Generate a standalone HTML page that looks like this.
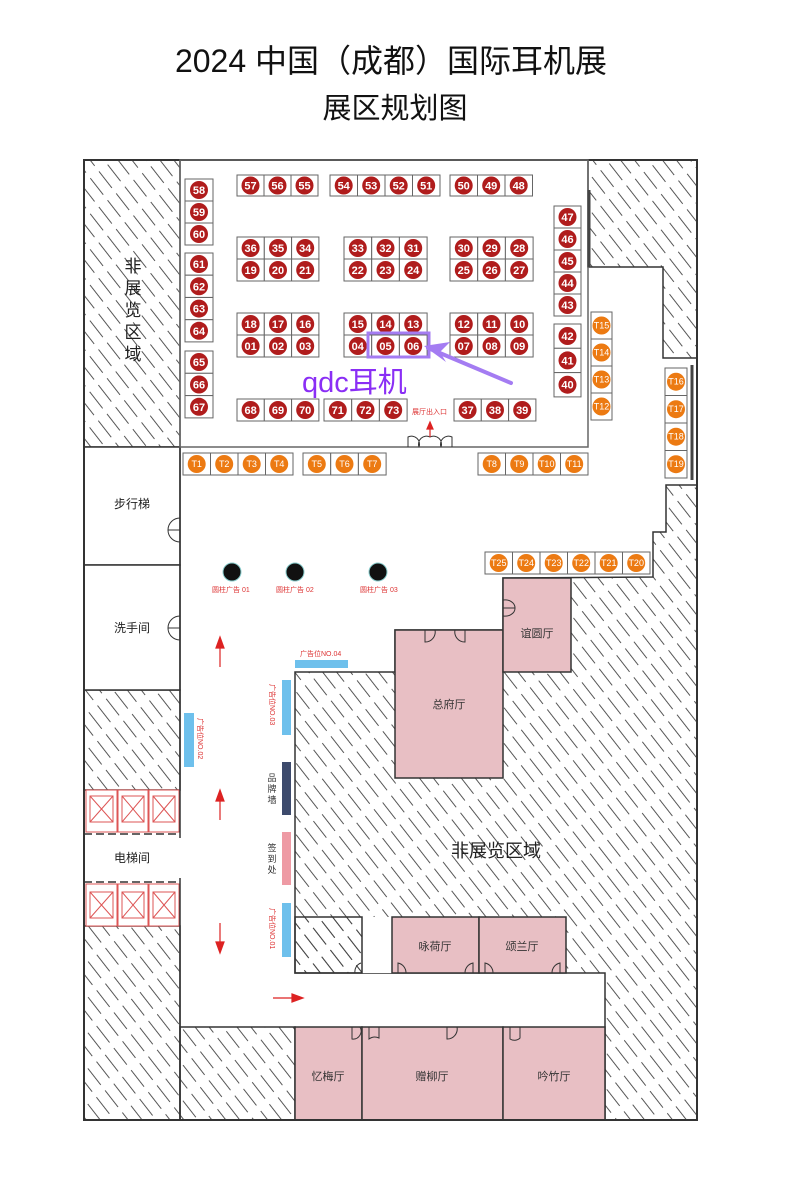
<!DOCTYPE html>
<html><head><meta charset="utf-8"><style>
body{margin:0;background:#fff}
svg{display:block}
.t{font-family:"Liberation Sans","Noto Sans CJK SC",sans-serif}
.c rect{fill:#fff;stroke:#666;stroke-width:1}
.c circle{fill:#b01c1c}
.c text{fill:#fff;font-size:11px;text-anchor:middle;font-family:"Liberation Sans",sans-serif;font-weight:bold}
.o rect{fill:#fff;stroke:#666;stroke-width:1}
.o circle{fill:#ec7a12}
.o text{fill:#fff;font-size:9px;text-anchor:middle;font-family:"Liberation Sans",sans-serif}
.pk{fill:#e8bfc4;stroke:#333;stroke-width:1.5}
.rl{font-family:"Liberation Sans","Noto Sans CJK SC",sans-serif;fill:#d33;font-size:7px}
</style></head><body>
<svg width="800" height="1178" viewBox="0 0 800 1178" xmlns="http://www.w3.org/2000/svg">
<defs>
<pattern id="h" patternUnits="userSpaceOnUse" width="11" height="28" patternTransform="rotate(-38)">
<rect x="5" y="0" width="0.9" height="21" fill="#444"/>
</pattern>
</defs>
<text class="t" x="391" y="72" font-size="32" text-anchor="middle" fill="#111">2024 中国（成都）国际耳机展</text>
<text class="t" x="395" y="118" font-size="29" text-anchor="middle" fill="#111">展区规划图</text>

<g fill="url(#h)" stroke="#333" stroke-width="1.5">
<rect x="84" y="160" width="96" height="287"/>
<rect x="84" y="690" width="96" height="100"/>
<rect x="84" y="926" width="96" height="194"/>
<rect x="180" y="1027" width="115" height="93"/>
<path d="M588,160 L697,160 L697,358 L663,358 L663,267 L588,267 Z"/>
<path d="M666,485 L697,485 L697,1120 L605,1120 L605,973 L295,973 L295,672 L395,672 L395,630 L503,630 L503,578 L653,577 L653,532 L666,532 Z"/>
</g>
<rect x="362" y="917" width="30" height="56" fill="#fff"/>
<rect x="295" y="917" width="67" height="56" fill="url(#h)" stroke="#333" stroke-width="1.5"/>
<rect class="pk" x="395" y="630" width="108" height="148"/>
<rect class="pk" x="503" y="578" width="68" height="94"/>
<rect class="pk" x="392" y="917" width="87" height="56"/>
<rect class="pk" x="479" y="917" width="87" height="56"/>
<rect class="pk" x="295" y="1027" width="67" height="93"/>
<rect class="pk" x="362" y="1027" width="141" height="93"/>
<rect class="pk" x="503" y="1027" width="102" height="93"/>
<g class="t" font-size="11" fill="#333" text-anchor="middle">
<text x="449" y="708">总府厅</text>
<text x="537" y="637">谊圆厅</text>
<text x="435" y="950">咏荷厅</text>
<text x="522" y="950">颂兰厅</text>
<text x="328" y="1080">忆梅厅</text>
<text x="432" y="1080">赠柳厅</text>
<text x="554" y="1080">吟竹厅</text>
</g>
<g fill="#fff" stroke="#333" stroke-width="1.5">
<rect x="84" y="447" width="96" height="118"/>
<rect x="84" y="565" width="96" height="125"/>
</g>
<g class="t" font-size="12" fill="#222" text-anchor="middle">
<text x="132" y="508">步行梯</text>
<text x="132" y="632">洗手间</text>
<text x="132" y="862">电梯间</text>
</g>
<g class="t" font-size="17" fill="#222" text-anchor="middle">
<text x="133" y="272">非</text><text x="133" y="294">展</text><text x="133" y="316">览</text><text x="133" y="338">区</text><text x="133" y="360">域</text>
<text x="496" y="857" font-size="18">非展览区域</text>
</g>
<g fill="#fff" stroke="#d55" stroke-width="1">
<rect x="86" y="790" width="31" height="42"/><rect x="118" y="790" width="30" height="42"/><rect x="149" y="790" width="30" height="42"/>
<rect x="90" y="796" width="23" height="26"/><rect x="122" y="796" width="22" height="26"/><rect x="153" y="796" width="22" height="26"/>
<path d="M90,796 L113,822 M113,796 L90,822 M122,796 L144,822 M144,796 L122,822 M153,796 L175,822 M175,796 L153,822"/>
<rect x="86" y="884" width="31" height="42"/><rect x="118" y="884" width="30" height="42"/><rect x="149" y="884" width="30" height="42"/>
<rect x="90" y="892" width="23" height="26"/><rect x="122" y="892" width="22" height="26"/><rect x="153" y="892" width="22" height="26"/>
<path d="M90,892 L113,918 M113,892 L90,918 M122,892 L144,918 M144,892 L122,918 M153,892 L175,918 M175,892 L153,918"/>
</g>
<path d="M84,834 H180 M84,882 H180" stroke="#333" stroke-width="1.5" stroke-dasharray="8 4"/>
<rect x="84" y="160" width="613" height="960" fill="none" stroke="#333" stroke-width="2"/>
<path d="M180,447 V838 M180,878 V1120" stroke="#333" stroke-width="1.5"/>
<rect x="180" y="160" width="408" height="287" fill="none" stroke="#666" stroke-width="1.5"/>
<path d="M589,190 V267 M692,365 V480" stroke="#444" stroke-width="3"/>
<g fill="none" stroke="#333" stroke-width="1">
<path d="M180,518 a12,12 0 0 0 -12,12 h12 M180,542 a12,12 0 0 1 -12,-12"/>
<path d="M180,616 a12,12 0 0 0 -12,12 h12 M180,640 a12,12 0 0 1 -12,-12"/>
<path d="M408,447 v-10 a8,8 0 0 1 11,10 M452,447 v-10 a8,8 0 0 0 -11,10 M419,447 a8,8 0 0 1 11,-10 M441,447 a8,8 0 0 0 -11,-10"/>
<path d="M425,630 v12 a10,10 0 0 0 10,-12 M465,630 v12 a10,10 0 0 1 -10,-12"/>
<path d="M503,600 a10,8 0 0 1 12,8 h-12 M503,616 a10,8 0 0 0 12,-8"/>
<path d="M398,973 v-10 a10,10 0 0 1 8,10 M473,973 v-10 a10,10 0 0 0 -8,10 M485,973 v-10 a10,10 0 0 1 8,10 M560,973 v-10 a10,10 0 0 0 -8,10 M355,973 a9,9 0 0 1 6,-10"/>
<path d="M352,1027 v12 a8,8 0 0 0 8,-12 M369,1027 v12 a10,10 0 0 1 10,-1 v-11 M447,1027 v12 a10,10 0 0 0 10,-12 M510,1027 v12 a8,8 0 0 0 10,-1 v-11"/>
</g>
<g stroke="#8cc" stroke-width="1"><circle cx="232" cy="572" r="9" fill="#111"/><circle cx="295" cy="572" r="9" fill="#111"/><circle cx="378" cy="572" r="9" fill="#111"/></g>
<text class="rl" x="212" y="592">圆柱广告 01</text><text class="rl" x="276" y="592">圆柱广告 02</text><text class="rl" x="360" y="592">圆柱广告 03</text>
<rect x="295" y="660" width="53" height="8" fill="#6ec0ec"/>
<text class="rl" x="300" y="656">广告位NO.04</text>
<rect x="282" y="680" width="9" height="55" fill="#6ec0ec"/>
<rect x="184" y="713" width="10" height="54" fill="#6ec0ec"/>
<rect x="282" y="762" width="9" height="53" fill="#3d4a6c"/>
<rect x="282" y="832" width="9" height="53" fill="#ee9aa4"/>
<rect x="282" y="903" width="9" height="54" fill="#6ec0ec"/>
<text class="rl" transform="translate(270,684) rotate(90)">广告位NO.03</text>
<text class="rl" transform="translate(198,718) rotate(90)">广告位NO.02</text>
<text class="rl" transform="translate(270,908) rotate(90)">广告位NO.01</text>
<g class="t" font-size="9" fill="#333" text-anchor="middle">
<text x="272" y="781">品</text><text x="272" y="792">牌</text><text x="272" y="803">墙</text>
<text x="272" y="851">签</text><text x="272" y="862">到</text><text x="272" y="873">处</text>
</g>
<g stroke="#d22" stroke-width="1.2" fill="#d22">
<path d="M220,667 V645" /><path d="M216,648 L220,637 L224,648 Z"/>
<path d="M220,820 V798" /><path d="M216,801 L220,790 L224,801 Z"/>
<path d="M220,923 V945" /><path d="M216,942 L220,953 L224,942 Z"/>
<path d="M273,998 H295" /><path d="M292,994 L303,998 L292,1002 Z"/>
<path d="M430,437 V428"/><path d="M427,429 L430,422 L433,429 Z"/>
</g>
<text class="rl" x="412" y="414">展厅出入口</text>

<g class="c">
<rect x="237" y="175" width="27" height="21"/><circle cx="250.5" cy="185.5" r="9"/><text x="250.5" y="189.5">57</text>
<rect x="264" y="175" width="27" height="21"/><circle cx="277.5" cy="185.5" r="9"/><text x="277.5" y="189.5">56</text>
<rect x="291" y="175" width="27" height="21"/><circle cx="304.5" cy="185.5" r="9"/><text x="304.5" y="189.5">55</text>
<rect x="330" y="175" width="27.5" height="21"/><circle cx="343.7" cy="185.5" r="9"/><text x="343.7" y="189.5">54</text>
<rect x="357.5" y="175" width="27.5" height="21"/><circle cx="371.2" cy="185.5" r="9"/><text x="371.2" y="189.5">53</text>
<rect x="385" y="175" width="27.5" height="21"/><circle cx="398.7" cy="185.5" r="9"/><text x="398.7" y="189.5">52</text>
<rect x="412.5" y="175" width="27.5" height="21"/><circle cx="426.2" cy="185.5" r="9"/><text x="426.2" y="189.5">51</text>
<rect x="450" y="175" width="27.5" height="21"/><circle cx="463.7" cy="185.5" r="9"/><text x="463.7" y="189.5">50</text>
<rect x="477.5" y="175" width="27.5" height="21"/><circle cx="491.2" cy="185.5" r="9"/><text x="491.2" y="189.5">49</text>
<rect x="505" y="175" width="27.5" height="21"/><circle cx="518.7" cy="185.5" r="9"/><text x="518.7" y="189.5">48</text>

<rect x="237" y="237" width="27.3" height="22"/><circle cx="250.6" cy="248" r="9"/><text x="250.6" y="252">36</text>
<rect x="264.3" y="237" width="27.3" height="22"/><circle cx="278" cy="248" r="9"/><text x="278" y="252">35</text>
<rect x="291.6" y="237" width="27.3" height="22"/><circle cx="305.2" cy="248" r="9"/><text x="305.2" y="252">34</text>
<rect x="344" y="237" width="27.7" height="22"/><circle cx="357.8" cy="248" r="9"/><text x="357.8" y="252">33</text>
<rect x="371.7" y="237" width="27.7" height="22"/><circle cx="385.5" cy="248" r="9"/><text x="385.5" y="252">32</text>
<rect x="399.4" y="237" width="27.7" height="22"/><circle cx="413.2" cy="248" r="9"/><text x="413.2" y="252">31</text>
<rect x="450" y="237" width="27.7" height="22"/><circle cx="463.8" cy="248" r="9"/><text x="463.8" y="252">30</text>
<rect x="477.7" y="237" width="27.7" height="22"/><circle cx="491.5" cy="248" r="9"/><text x="491.5" y="252">29</text>
<rect x="505.4" y="237" width="27.7" height="22"/><circle cx="519.2" cy="248" r="9"/><text x="519.2" y="252">28</text>
<rect x="237" y="259" width="27.3" height="22"/><circle cx="250.6" cy="270" r="9"/><text x="250.6" y="274">19</text>
<rect x="264.3" y="259" width="27.3" height="22"/><circle cx="278" cy="270" r="9"/><text x="278" y="274">20</text>
<rect x="291.6" y="259" width="27.3" height="22"/><circle cx="305.2" cy="270" r="9"/><text x="305.2" y="274">21</text>
<rect x="344" y="259" width="27.7" height="22"/><circle cx="357.8" cy="270" r="9"/><text x="357.8" y="274">22</text>
<rect x="371.7" y="259" width="27.7" height="22"/><circle cx="385.5" cy="270" r="9"/><text x="385.5" y="274">23</text>
<rect x="399.4" y="259" width="27.7" height="22"/><circle cx="413.2" cy="270" r="9"/><text x="413.2" y="274">24</text>
<rect x="450" y="259" width="27.7" height="22"/><circle cx="463.8" cy="270" r="9"/><text x="463.8" y="274">25</text>
<rect x="477.7" y="259" width="27.7" height="22"/><circle cx="491.5" cy="270" r="9"/><text x="491.5" y="274">26</text>
<rect x="505.4" y="259" width="27.7" height="22"/><circle cx="519.2" cy="270" r="9"/><text x="519.2" y="274">27</text>

<rect x="237" y="313" width="27.3" height="22"/><circle cx="250.6" cy="324" r="9"/><text x="250.6" y="328">18</text>
<rect x="264.3" y="313" width="27.3" height="22"/><circle cx="278" cy="324" r="9"/><text x="278" y="328">17</text>
<rect x="291.6" y="313" width="27.3" height="22"/><circle cx="305.2" cy="324" r="9"/><text x="305.2" y="328">16</text>
<rect x="344" y="313" width="27.7" height="22"/><circle cx="357.8" cy="324" r="9"/><text x="357.8" y="328">15</text>
<rect x="371.7" y="313" width="27.7" height="22"/><circle cx="385.5" cy="324" r="9"/><text x="385.5" y="328">14</text>
<rect x="399.4" y="313" width="27.7" height="22"/><circle cx="413.2" cy="324" r="9"/><text x="413.2" y="328">13</text>
<rect x="450" y="313" width="27.7" height="22"/><circle cx="463.8" cy="324" r="9"/><text x="463.8" y="328">12</text>
<rect x="477.7" y="313" width="27.7" height="22"/><circle cx="491.5" cy="324" r="9"/><text x="491.5" y="328">11</text>
<rect x="505.4" y="313" width="27.7" height="22"/><circle cx="519.2" cy="324" r="9"/><text x="519.2" y="328">10</text>
<rect x="237" y="335" width="27.3" height="22"/><circle cx="250.6" cy="346" r="9"/><text x="250.6" y="350">01</text>
<rect x="264.3" y="335" width="27.3" height="22"/><circle cx="278" cy="346" r="9"/><text x="278" y="350">02</text>
<rect x="291.6" y="335" width="27.3" height="22"/><circle cx="305.2" cy="346" r="9"/><text x="305.2" y="350">03</text>
<rect x="344" y="335" width="27.7" height="22"/><circle cx="357.8" cy="346" r="9"/><text x="357.8" y="350">04</text>
<rect x="371.7" y="335" width="27.7" height="22"/><circle cx="385.5" cy="346" r="9"/><text x="385.5" y="350">05</text>
<rect x="399.4" y="335" width="27.7" height="22"/><circle cx="413.2" cy="346" r="9"/><text x="413.2" y="350">06</text>
<rect x="450" y="335" width="27.7" height="22"/><circle cx="463.8" cy="346" r="9"/><text x="463.8" y="350">07</text>
<rect x="477.7" y="335" width="27.7" height="22"/><circle cx="491.5" cy="346" r="9"/><text x="491.5" y="350">08</text>
<rect x="505.4" y="335" width="27.7" height="22"/><circle cx="519.2" cy="346" r="9"/><text x="519.2" y="350">09</text>

<rect x="237" y="399" width="27.3" height="22"/><circle cx="250.6" cy="410" r="9"/><text x="250.6" y="414">68</text>
<rect x="264.3" y="399" width="27.3" height="22"/><circle cx="278" cy="410" r="9"/><text x="278" y="414">69</text>
<rect x="291.6" y="399" width="27.3" height="22"/><circle cx="305.2" cy="410" r="9"/><text x="305.2" y="414">70</text>
<rect x="324" y="399" width="27.7" height="22"/><circle cx="337.8" cy="410" r="9"/><text x="337.8" y="414">71</text>
<rect x="351.7" y="399" width="27.7" height="22"/><circle cx="365.5" cy="410" r="9"/><text x="365.5" y="414">72</text>
<rect x="379.4" y="399" width="27.7" height="22"/><circle cx="393.2" cy="410" r="9"/><text x="393.2" y="414">73</text>
<rect x="454" y="399" width="27.3" height="22"/><circle cx="467.6" cy="410" r="9"/><text x="467.6" y="414">37</text>
<rect x="481.3" y="399" width="27.3" height="22"/><circle cx="495" cy="410" r="9"/><text x="495" y="414">38</text>
<rect x="508.6" y="399" width="27.3" height="22"/><circle cx="522.2" cy="410" r="9"/><text x="522.2" y="414">39</text>

<rect x="185" y="179" width="28" height="22"/><circle cx="199" cy="190" r="9"/><text x="199" y="194">58</text>
<rect x="185" y="201" width="28" height="22"/><circle cx="199" cy="212" r="9"/><text x="199" y="216">59</text>
<rect x="185" y="223" width="28" height="22"/><circle cx="199" cy="234" r="9"/><text x="199" y="238">60</text>
<rect x="185" y="253" width="28" height="22.2"/><circle cx="199" cy="264" r="9"/><text x="199" y="268">61</text>
<rect x="185" y="275.2" width="28" height="22.2"/><circle cx="199" cy="286.3" r="9"/><text x="199" y="290.3">62</text>
<rect x="185" y="297.5" width="28" height="22.2"/><circle cx="199" cy="308.6" r="9"/><text x="199" y="312.6">63</text>
<rect x="185" y="319.7" width="28" height="22.2"/><circle cx="199" cy="330.8" r="9"/><text x="199" y="334.8">64</text>
<rect x="185" y="351" width="28" height="22.3"/><circle cx="199" cy="362" r="9"/><text x="199" y="366">65</text>
<rect x="185" y="373.3" width="28" height="22.3"/><circle cx="199" cy="384.5" r="9"/><text x="199" y="388.5">66</text>
<rect x="185" y="395.6" width="28" height="22.3"/><circle cx="199" cy="406.8" r="9"/><text x="199" y="410.8">67</text>

<rect x="554" y="206" width="27" height="22"/><circle cx="567.5" cy="217" r="9"/><text x="567.5" y="221">47</text>
<rect x="554" y="228" width="27" height="22"/><circle cx="567.5" cy="239" r="9"/><text x="567.5" y="243">46</text>
<rect x="554" y="250" width="27" height="22"/><circle cx="567.5" cy="261" r="9"/><text x="567.5" y="265">45</text>
<rect x="554" y="272" width="27" height="22"/><circle cx="567.5" cy="283" r="9"/><text x="567.5" y="287">44</text>
<rect x="554" y="294" width="27" height="22"/><circle cx="567.5" cy="305" r="9"/><text x="567.5" y="309">43</text>
<rect x="554" y="324" width="27" height="24.3"/><circle cx="567.5" cy="336" r="9"/><text x="567.5" y="340">42</text>
<rect x="554" y="348.3" width="27" height="24.3"/><circle cx="567.5" cy="360.4" r="9"/><text x="567.5" y="364.4">41</text>
<rect x="554" y="372.6" width="27" height="24.3"/><circle cx="567.5" cy="384.7" r="9"/><text x="567.5" y="388.7">40</text>
</g>

<g class="o">
<rect x="591" y="312" width="21" height="27"/><circle cx="601.5" cy="325.5" r="9"/><text x="601.5" y="328.5">T15</text>
<rect x="591" y="339" width="21" height="27"/><circle cx="601.5" cy="352.5" r="9"/><text x="601.5" y="355.5">T14</text>
<rect x="591" y="366" width="21" height="27"/><circle cx="601.5" cy="379.5" r="9"/><text x="601.5" y="382.5">T13</text>
<rect x="591" y="393" width="21" height="27"/><circle cx="601.5" cy="406.5" r="9"/><text x="601.5" y="409.5">T12</text>
<rect x="665" y="368" width="22" height="27.5"/><circle cx="676" cy="381.7" r="9"/><text x="676" y="384.7">T16</text>
<rect x="665" y="395.5" width="22" height="27.5"/><circle cx="676" cy="409.2" r="9"/><text x="676" y="412.2">T17</text>
<rect x="665" y="423" width="22" height="27.5"/><circle cx="676" cy="436.7" r="9"/><text x="676" y="439.7">T18</text>
<rect x="665" y="450.5" width="22" height="27.5"/><circle cx="676" cy="464.2" r="9"/><text x="676" y="467.2">T19</text>

<rect x="183" y="453" width="27.5" height="22"/><circle cx="196.7" cy="464" r="9"/><text x="196.7" y="467">T1</text>
<rect x="210.5" y="453" width="27.5" height="22"/><circle cx="224.2" cy="464" r="9"/><text x="224.2" y="467">T2</text>
<rect x="238" y="453" width="27.5" height="22"/><circle cx="251.7" cy="464" r="9"/><text x="251.7" y="467">T3</text>
<rect x="265.5" y="453" width="27.5" height="22"/><circle cx="279.2" cy="464" r="9"/><text x="279.2" y="467">T4</text>
<rect x="303" y="453" width="27.7" height="22"/><circle cx="316.8" cy="464" r="9"/><text x="316.8" y="467">T5</text>
<rect x="330.7" y="453" width="27.7" height="22"/><circle cx="344.5" cy="464" r="9"/><text x="344.5" y="467">T6</text>
<rect x="358.4" y="453" width="27.7" height="22"/><circle cx="372.2" cy="464" r="9"/><text x="372.2" y="467">T7</text>
<rect x="478" y="453" width="27.5" height="22"/><circle cx="491.7" cy="464" r="9"/><text x="491.7" y="467">T8</text>
<rect x="505.5" y="453" width="27.5" height="22"/><circle cx="519.2" cy="464" r="9"/><text x="519.2" y="467">T9</text>
<rect x="533" y="453" width="27.5" height="22"/><circle cx="546.7" cy="464" r="9"/><text x="546.7" y="467">T10</text>
<rect x="560.5" y="453" width="27.5" height="22"/><circle cx="574.2" cy="464" r="9"/><text x="574.2" y="467">T11</text>

<rect x="485" y="552" width="27.5" height="22"/><circle cx="498.7" cy="563" r="9"/><text x="498.7" y="566">T25</text>
<rect x="512.5" y="552" width="27.5" height="22"/><circle cx="526.2" cy="563" r="9"/><text x="526.2" y="566">T24</text>
<rect x="540" y="552" width="27.5" height="22"/><circle cx="553.7" cy="563" r="9"/><text x="553.7" y="566">T23</text>
<rect x="567.5" y="552" width="27.5" height="22"/><circle cx="581.2" cy="563" r="9"/><text x="581.2" y="566">T22</text>
<rect x="595" y="552" width="27.5" height="22"/><circle cx="608.7" cy="563" r="9"/><text x="608.7" y="566">T21</text>
<rect x="622.5" y="552" width="27.5" height="22"/><circle cx="636.2" cy="563" r="9"/><text x="636.2" y="566">T20</text>
</g>

<rect x="368" y="333" width="61" height="24" fill="none" stroke="#a47cf2" stroke-width="3"/>
<path d="M511,383 L428,348" stroke="#a47cf2" stroke-width="4" stroke-linecap="round"/>
<path d="M424,346 L450,342 L440,352 L446,362 Z" fill="#a47cf2"/>
<text class="t" x="302" y="392" font-size="29" fill="#8a2ef5">qdc耳机</text>
</svg>
</body></html>
